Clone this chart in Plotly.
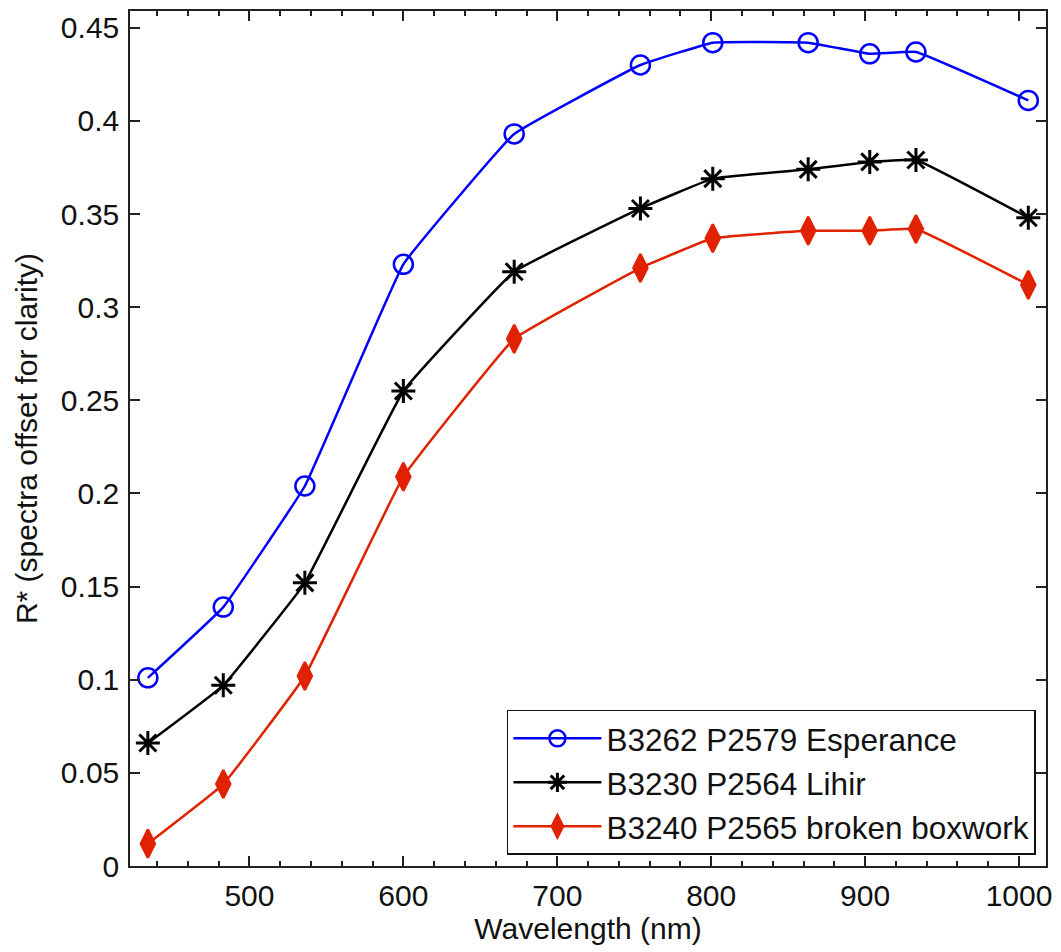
import plotly.graph_objects as go

wavelength = [434, 483, 536, 600, 672, 754, 801, 863, 903, 933, 1006]
esperance = [0.101, 0.139, 0.204, 0.323, 0.393, 0.430, 0.442, 0.442, 0.436, 0.437, 0.411]
lihir = [0.066, 0.097, 0.152, 0.255, 0.319, 0.353, 0.369, 0.374, 0.378, 0.379, 0.348]
boxwork = [0.012, 0.044, 0.102, 0.209, 0.283, 0.321, 0.337, 0.341, 0.341, 0.342, 0.312]

names = ["B3262 P2579 Esperance", "B3230 P2564 Lihir", "B3240 P2565 broken boxwork"]

FONT = "Liberation Sans, Arial, sans-serif"
AX = "#222222"
TXT = "#111111"

fig = go.Figure()
fig.add_trace(go.Scatter(
    x=wavelength, y=esperance, name=names[0], mode="lines+markers",
    line=dict(color="#0000ff", width=2.5, shape="spline", smoothing=0.25),
    marker=dict(symbol="circle-open", size=19, color="#0000ff", line=dict(width=2.5, color="#0000ff")),
))
fig.add_trace(go.Scatter(
    x=wavelength, y=lihir, name=names[1], mode="lines+markers",
    line=dict(color="#000000", width=2.5, shape="spline", smoothing=0.25),
    marker=dict(symbol="asterisk-open", size=20, color="#000000", line=dict(width=3, color="#000000")),
))
fig.add_trace(go.Scatter(
    x=wavelength, y=boxwork, name=names[2], mode="lines+markers",
    line=dict(color="#e02200", width=2.5, shape="spline", smoothing=0.25),
    marker=dict(symbol="diamond-tall", size=20, color="#e02200", line=dict(width=2.5, color="#e02200")),
))

axis_common = dict(
    showline=True, linecolor=AX, linewidth=1.5, mirror="ticks",
    ticks="inside", tickcolor=AX, tickwidth=1.5, ticklen=10,
    showgrid=False, zeroline=False,
    tickfont=dict(family=FONT, size=30, color=TXT),
)
xrange = [422.4, 1017.5]
minor_x = dict(ticks="inside", dtick=20, tick0=500, ticklen=5, tickwidth=1.5, tickcolor=AX, showgrid=False)

fig.update_layout(
    xaxis=dict(
        range=xrange, tick0=500, dtick=100, minor=minor_x,
        title=dict(text="Wavelength (nm)", font=dict(family=FONT, size=30, color=TXT), standoff=4),
        ticklabelstandoff=2,
        **axis_common,
    ),
    xaxis2=dict(
        range=xrange, overlaying="x", side="top", tick0=500, dtick=100,
        ticks="inside", tickcolor=AX, tickwidth=1.5, ticklen=10,
        minor=minor_x, showticklabels=False, showgrid=False, zeroline=False, showline=False,
    ),
    yaxis=dict(
        range=[0, 0.459], tick0=0, dtick=0.05,
        title=dict(text="R* (spectra offset for clarity)", font=dict(family=FONT, size=30, color=TXT), standoff=14),
        ticklabelstandoff=3,
        **axis_common,
    ),
)

fig.update_layout(
    width=1061, height=952,
    margin=dict(l=130, r=11, t=9, b=86),
    paper_bgcolor="white", plot_bgcolor="white",
    font=dict(family=FONT, size=30, color=TXT),
    showlegend=True,
    legend=dict(
        x=0.989, y=0.013, xanchor="right", yanchor="bottom",
        bgcolor="white", bordercolor=TXT, borderwidth=1.5,
        font=dict(family=FONT, size=31.5, color=TXT),
        itemwidth=88, tracegroupgap=0,
    ),
)

fig.write_html("out.html")
